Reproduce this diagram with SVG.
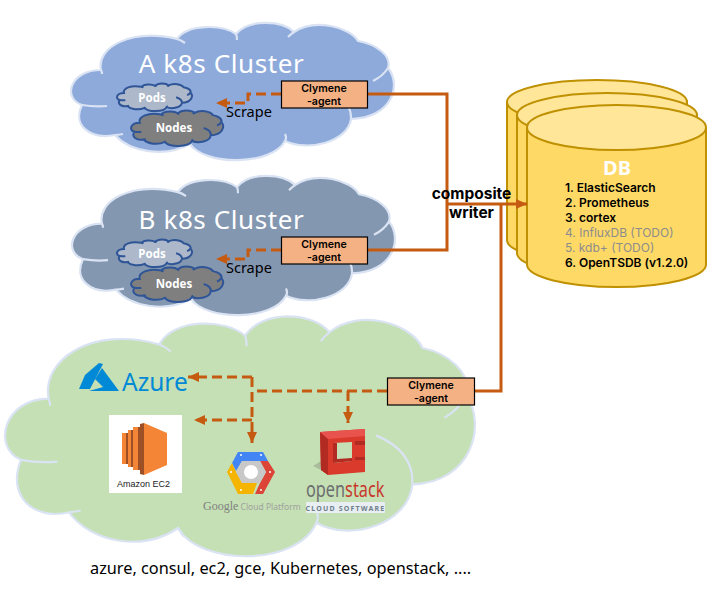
<svg xmlns="http://www.w3.org/2000/svg" width="716" height="594" viewBox="0 0 716 594">
<style>
text{font-family:"Noto Sans","Noto Sans CJK KR","Liberation Sans",sans-serif;fill:#000}
.title{font-size:26px;fill:#fff;text-anchor:middle;letter-spacing:.6px}
.sub{font-size:11.5px;font-weight:700;fill:#fff;text-anchor:middle}
.ag{font-family:Inter,"Liberation Sans",sans-serif;font-size:10.600px;font-weight:600;text-anchor:middle}
.agent{fill:#f4b183;stroke:#000;stroke-width:1.2}
.cl{vector-effect:non-scaling-stroke}
.big{stroke:#dae3f3;stroke-width:2.2}
.small{stroke:#2f5597;stroke-width:2}
.line{fill:none;stroke:#c55a11;stroke-width:3}
.dash{fill:none;stroke:#c55a11;stroke-width:3;stroke-dasharray:10 5}
.db{fill:#ffd966;stroke:#bf9000;stroke-width:2}
.dbt{fill:#ffe699;stroke:#bf9000;stroke-width:2}
.li{font-family:Inter,"Liberation Sans",sans-serif;font-size:12px;font-weight:600}
.td{font-weight:400}
.scr{font-size:14.500px}
</style>
<defs>
<g id="cloud">
<path class="cl" d="M101 70C96 48 130 28 177 39C187 24 222 24 236 34C248 19 282 20 294 32C315 18 350 27 358 41C375 44 392 55 388 68C402 85 392 118 351 119C348 142 308 152 285 141C272 166 205 166 190 144C165 158 130 152 115 135C90 140 72 125 82 105C62 98 70 70 101 70Z"/>
<path class="cl" fill="none" d="M177 39Q181 40 185 43M236 34Q237 36 237 40M294 32Q291 34 288 37M388 68Q383 76 373 81M351 119Q352 100 326 91M285 141Q287 138 285 134M190 144Q192 147 194 149M115 135Q118 135 123 134M82 105Q94 107 107 106M101 70Q102 72 102 74"/>
</g>
<marker id="ah" markerUnits="userSpaceOnUse" markerWidth="12" markerHeight="12" refX="11" refY="6" orient="auto"><path d="M0 1L11 6L0 11Z" fill="#c55a11"/></marker>
</defs>
<g id="cluster-a">
<use href="#cloud" class="big" fill="#8eaadb"/>
<text class="title" x="221.500" y="73">A k8s Cluster</text>
<text class="scr" x="226" y="117">Scrape</text>
</g>
<g id="pods-a"><use href="#cloud" class="small" fill="#adb9ca" transform="translate(100.5 79) scale(.232 .2)"/><text class="sub" x="152" y="102">Pods</text></g>
<g id="nodes-a"><use href="#cloud" class="small" fill="#7f7f7f" transform="translate(110.8 104.5) scale(.285 .259)"/><text class="sub" x="174" y="132">Nodes</text></g>
<g id="cluster-b">
<use href="#cloud" class="big" fill="#8497b0" transform="translate(1 152.6) scale(1 1.015)"/>
<text class="title" x="221.500" y="229">B k8s Cluster</text>
<text class="scr" x="226" y="273">Scrape</text>
</g>
<g id="pods-b"><use href="#cloud" class="small" fill="#adb9ca" transform="translate(100.5 235) scale(.232 .2)"/><text class="sub" x="152" y="258">Pods</text></g>
<g id="nodes-b"><use href="#cloud" class="small" fill="#7f7f7f" transform="translate(110.8 260.5) scale(.285 .259)"/><text class="sub" x="174" y="288">Nodes</text></g>
<g id="cluster-c"><use href="#cloud" class="big" fill="#c5e0b4" transform="translate(-98.3 276.3) scale(1.455 1.748)"/></g>
<g id="db">
<path class="db" d="M507 102V240A90 22 0 0 0 687 240V102"/><ellipse class="dbt" cx="597" cy="102" rx="90" ry="22"/>
<path class="db" d="M517 115V253A90 22 0 0 0 697 253V115"/><ellipse class="dbt" cx="607" cy="115" rx="90" ry="22"/>
<path class="db" d="M527 127.500V264.500A89.500 22.500 0 0 0 706 264.500V127.500"/><ellipse class="dbt" cx="616.500" cy="127.500" rx="89.500" ry="22.500"/>
<text x="617" y="175" font-size="20" font-weight="700" text-anchor="middle" style="fill:#fff">DB</text>
<text class="li" x="565" y="191.500">1. ElasticSearch<tspan x="565" dy="15">2. Prometheus</tspan><tspan x="565" dy="15">3. cortex</tspan><tspan x="565" dy="15" class="td" style="fill:#8c8c8c">4. InfluxDB (TODO)</tspan><tspan x="565" dy="15" class="td" style="fill:#8c8c8c">5. kdb+ (TODO)</tspan><tspan x="565" dy="15">6. OpenTSDB (v1.2.0)</tspan></text>
</g>
<g id="connectors">
<path class="line" d="M368 94H447V250H368"/>
<path class="line" d="M447 204H527" marker-end="url(#ah)"/>
<path class="line" d="M475 391H501V204"/>
<path class="dash" d="M281 94H248V103H216" marker-end="url(#ah)"/>
<path class="dash" d="M281 250H248V259H216" marker-end="url(#ah)"/>
<path class="dash" d="M387 391H254"/>
<path class="dash" d="M252 377H188" marker-end="url(#ah)"/>
<path class="dash" d="M252 377V443" marker-end="url(#ah)"/>
<path class="dash" d="M252 420H194" marker-end="url(#ah)"/>
<path class="dash" d="M348 391V423" marker-end="url(#ah)"/>
</g>
<g id="agent-a"><rect class="agent" x="281.500" y="81" width="86" height="27"/><text class="ag" x="324" y="92">Clymene<tspan x="324" dy="13">-agent</tspan></text></g>
<g id="agent-b"><rect class="agent" x="281.500" y="237" width="86" height="27"/><text class="ag" x="324" y="248">Clymene<tspan x="324" dy="13">-agent</tspan></text></g>
<g id="agent-c"><rect class="agent" x="387.500" y="378" width="87" height="27"/><text class="ag" x="431" y="389">Clymene<tspan x="431" dy="13">-agent</tspan></text></g>
<text id="label-writer" font-size="15.500" font-weight="700" text-anchor="middle" x="471.500" y="199" style="font-family:Inter,'Liberation Sans',sans-serif">composite<tspan x="471.500" dy="19">writer</tspan></text>
<g id="azure">
<path d="M99 363L85 375L79 389H90L103 364Z" fill="#0089d6"/><path d="M102 368L95 379L103 387L89 391H119Z" fill="#0089d6"/>
<text x="122" y="391" font-size="24.500" style="fill:#0089d6">Azure</text>
</g>
<g id="ec2">
<rect x="109" y="415" width="73" height="78" fill="#fff"/>
<path d="M122 433h4v31h-4zM128 430h3v37h-3zM133 427h5v43h-5zM144 423L167 433V465L144 475Z" fill="#f58536"/>
<path d="M126 433h2v31h-2zM131 430h2v37h-2zM138 427h2v43h-2zM140 424L144 423V475L140 474Z" fill="#9d5025"/>
<text x="143.500" y="487" font-size="9" text-anchor="middle" style="font-family:'Liberation Sans',sans-serif;fill:#222">Amazon EC2</text>
</g>
<g id="gcp">
<path d="M238 452H263L268 461H242L236 471L232 463Z" fill="#4285f4"/>
<path d="M268 461L275 472L263 494H255L260 483L266 472L260 461Z" fill="#db4437"/>
<path d="M227 472L232 463L236 472L242 483H257L253 494H238Z" fill="#f4b400"/>
<path d="M242 461H260L266 472L260 483H242L236 472Z" fill="#c8c8c8"/><circle cx="251" cy="472" r="7" fill="#fff"/>
<g fill="#fff"><circle cx="241" cy="455" r="1"/><circle cx="261" cy="455" r="1"/><circle cx="270" cy="472" r="1"/><circle cx="231" cy="472" r="1"/><circle cx="241" cy="490" r="1"/><circle cx="261" cy="490" r="1"/></g>
<text x="203" y="510" font-size="8.500" style="fill:#a0a0a0"><tspan font-size="12" style="font-family:'Liberation Serif',serif;fill:#808080">Google</tspan> Cloud Platform</text>
</g>
<g id="openstack">
<path d="M313 466L321 461L323 471Z" fill="#a9bb9a"/>
<path d="M320 432L365 429V472L328 475L321 470Z" fill="#d93a2b"/>
<path d="M320 432L365 429V436L328 439L320 439Z" fill="#e8534d"/>
<path d="M320 432L328 439V475L321 470Z" fill="#b22b22"/>
<path d="M333 443L352 442V461L333 463Z" fill="#c5e0b4"/>
<path d="M333 443L337 443V459L352 458V461L333 463Z" fill="#b22b22"/>
<path d="M355 441H365V445H355ZM355 457H365V460H355Z" fill="#b22b22"/>
<text transform="translate(306 497) scale(.74 1)" font-size="22" style="fill:#6d6e71">open<tspan style="fill:#c9372c">stack</tspan></text>
<rect x="306" y="502" width="79" height="11" rx="1" fill="#e8eef2"/>
<text x="345.500" y="510.500" font-size="7" font-weight="700" text-anchor="middle" letter-spacing="1.200" style="fill:#6d7f8a">CLOUD SOFTWARE</text>
</g>
<text id="caption" x="90" y="574" font-size="16.300">azure, consul, ec2, gce, Kubernetes, openstack, ....</text>
</svg>
